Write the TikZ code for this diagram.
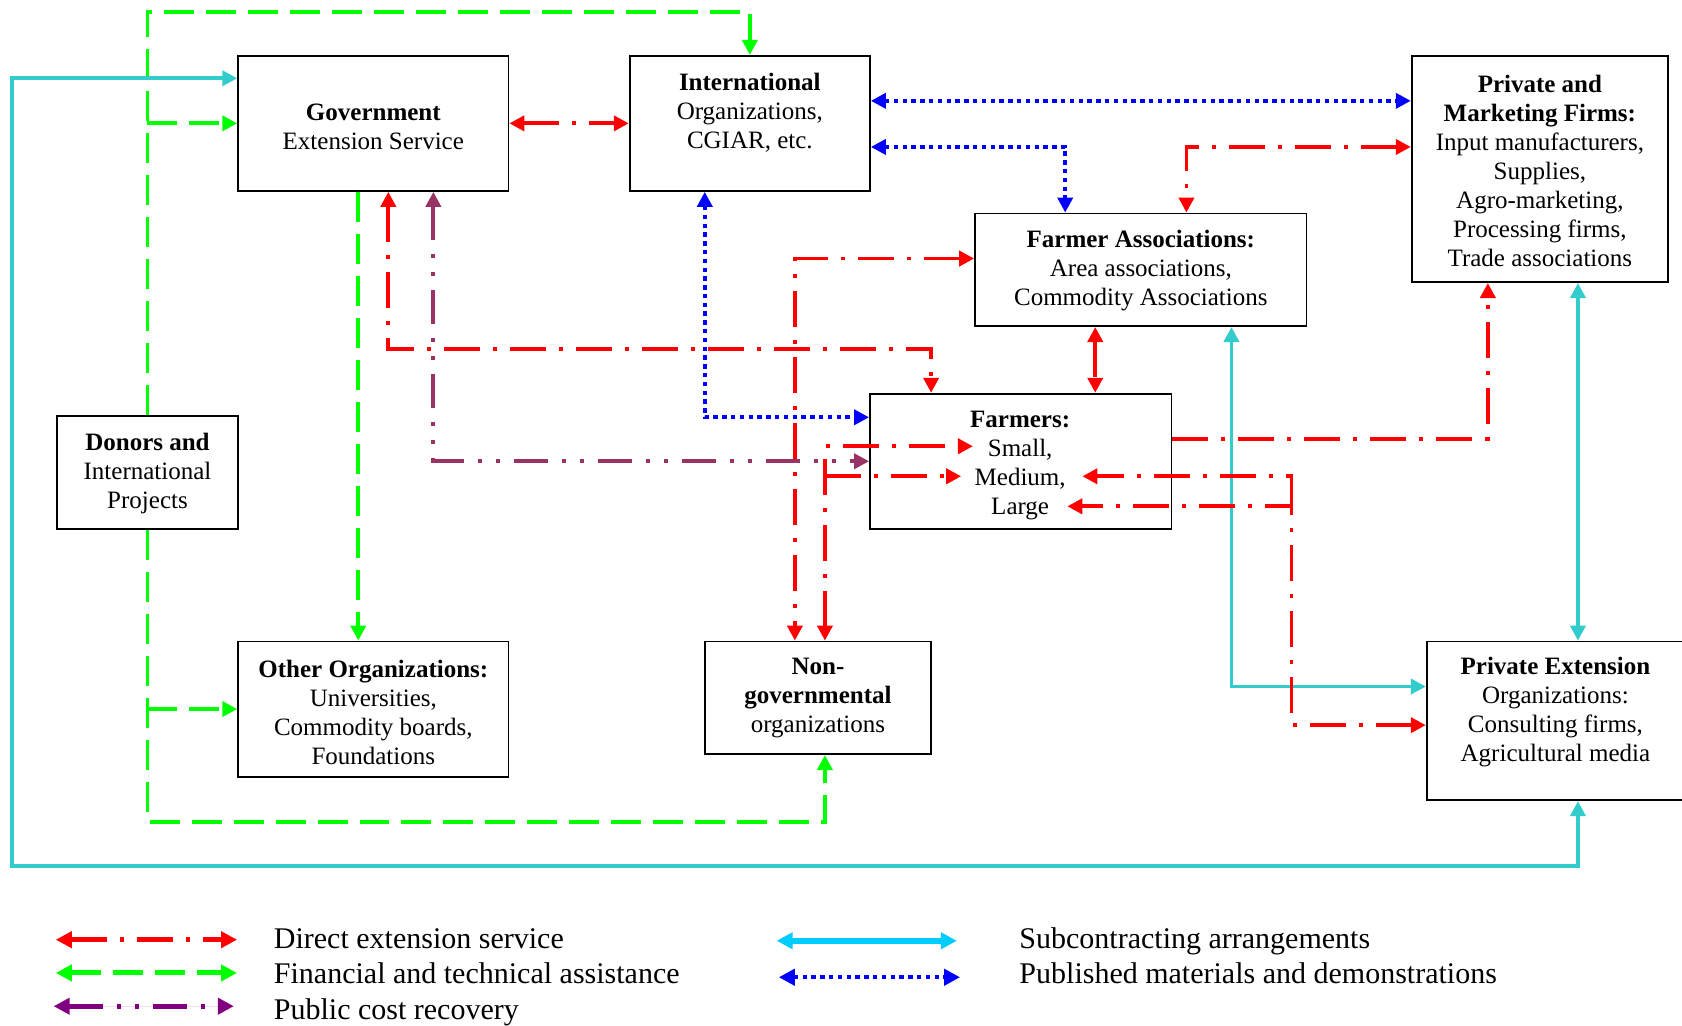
\documentclass[tikz,border=0pt]{standalone}
\usepackage{fontspec}
\setmainfont{Liberation Serif}
\usetikzlibrary{arrows.meta}

\definecolor{dxred}{RGB}{255,0,0}
\definecolor{fagreen}{RGB}{0,255,0}
\definecolor{pcrpurple}{RGB}{153,51,102}
\definecolor{subteal}{RGB}{51,204,204}
\definecolor{pubblue}{RGB}{0,0,255}
\definecolor{legpurple}{RGB}{128,0,128}
\definecolor{legcyan}{RGB}{0,204,255}

\begin{document}
\begin{tikzpicture}[
  x=0.5364pt, y=-0.5364pt,
  box/.style={draw=black, line width=0.9pt, inner sep=0pt},
  txt/.style={align=center, font=\fontsize{12.5}{14.5}\selectfont, inner sep=0pt},
  legtxt/.style={anchor=base west, font=\fontsize{15}{17.7}\selectfont, inner sep=0pt},
  >={Triangle[length=7.5pt,width=7.5pt]},
  direct/.style={draw=dxred, line width=1.9pt, dash pattern=on 18pt off 6.5pt on 2pt off 6.5pt},
  finance/.style={draw=fagreen, line width=1.9pt, dash pattern=on 15pt off 6pt},
  recovery/.style={draw=pcrpurple, line width=1.9pt, dash pattern=on 17pt off 7pt on 2pt off 7pt on 2pt off 7pt},
  subcon/.style={draw=subteal, line width=1.9pt},
  publish/.style={draw=pubblue, line width=2.1pt, dash pattern=on 2.2pt off 2.2pt},
  legend/.style={line width=2.5pt, >={Triangle[length=8pt,width=8pt]}},
]
\useasboundingbox (0,0) rectangle (1568,956);
\clip (0,0) rectangle (1568,956);

% ---------- boxes ----------
\node[box, minimum width=135.17pt, minimum height=67.59pt] (gov)     at (348,115)    {};
\node[box, minimum width=120.15pt, minimum height=67.59pt] (intl)    at (699,115)    {};
\node[box, minimum width=128.20pt, minimum height=113.18pt] (pmf)    at (1435.5,157.5) {};
\node[box, minimum width=165.75pt, minimum height=56.32pt] (fa)      at (1063.5,251.5) {};
\node[box, minimum width=150.73pt, minimum height=67.59pt] (farmers) at (951.5,430)  {};
\node[box, minimum width=90.65pt,  minimum height=56.32pt] (donors)  at (137.5,440.5) {};
\node[box, minimum width=135.17pt, minimum height=67.59pt] (other)   at (348,661)    {};
\node[box, minimum width=113.18pt, minimum height=56.32pt] (ngo)     at (762.5,650.5) {};
\node[box, minimum width=129.81pt, minimum height=79.39pt] (pe)      at (1451,672)   {};

% ---------- box texts ----------
\node[txt] (gov-t)     at (348,118.5)  {\textbf{Government}\\Extension Service};
\node[txt] (intl-t)    at (699,105.5)  {\textbf{International}\\Organizations,\\CGIAR, etc.};
\node[txt] (pmf-t)     at (1435.5,159) {\textbf{Private and}\\\textbf{Marketing Firms:}\\Input manufacturers,\\Supplies,\\Agro-marketing,\\Processing firms,\\Trade associations};
\node[txt] (fa-t)      at (1063.5,252.5) {\textbf{Farmer Associations:}\\Area associations,\\Commodity Associations};
\node[txt] (farmers-t) at (951,434)    {\textbf{Farmers:}\\Small,\\Medium,\\Large};
\node[txt] (donors-t)  at (137.5,441.5) {\textbf{Donors and}\\International\\Projects};
\node[txt] (other-t)   at (348,664)    {\textbf{Other Organizations:}\\Universities,\\Commodity boards,\\Foundations};
\node[txt] (ngo-t)     at (762.5,650.5) {\textbf{Non-}\\\textbf{governmental}\\organizations};
\node[txt] (pe-t)      at (1450,664)   {\textbf{Private Extension}\\Organizations:\\Consulting firms,\\Agricultural media};

% ---------- lanes and free ends ----------
\coordinate (toprail)  at (0,11);
\coordinate (botrail)  at (0,766);
\coordinate (leftrail) at (11,0);
\coordinate (cyanbot)  at (0,807);
\coordinate (ycyan)    at (0,73);
\coordinate (ycyan2)   at (0,640);
\coordinate (xgovG)    at (334,0);
\coordinate (xgovR)    at (362,0);
\coordinate (xgovP)    at (404,0);
\coordinate (xintB)    at (657,0);
\coordinate (xngoA)    at (741,0);
\coordinate (xngoB)    at (769,0);
\coordinate (xfarmR)   at (868,0);
\coordinate (xfaB)     at (993,0);
\coordinate (xfaF)     at (1021,0);
\coordinate (xfaR)     at (1106,0);
\coordinate (xfaC)     at (1148,0);
\coordinate (xrr)      at (1204,0);
\coordinate (xpmfR)    at (1387,0);
\coordinate (xpe)      at (1471,0);
\coordinate (yb94)     at (0,94);
\coordinate (yb137)    at (0,137);
\coordinate (yr241)    at (0,241);
\coordinate (yr325)    at (0,325);
\coordinate (yb389)    at (0,389);
\coordinate (yr409)    at (0,409);
\coordinate (ypcr)     at (0,430);
\coordinate (yr676)    at (0,676);
\coordinate (smallTip)   at (907,416);
\coordinate (mediumTipL) at (896,444);
\coordinate (mediumTipR) at (1009,444);
\coordinate (largeTip)   at (995,472);

% ---------- financial and technical assistance ----------
\draw[finance,->] (donors.north) -- (donors.north |- toprail) -| (intl.north);
\draw[finance,->] (donors.north |- gov.west) -- (gov.west);
\draw[finance,->] (donors.south) -- (donors.south |- botrail) -| (ngo.south -| xngoB);
\draw[finance,->] (donors.south |- other.west) -- (other.west);
\draw[finance,->] (gov.south -| xgovG) -- (other.north -| xgovG);

% ---------- subcontracting arrangements ----------
\draw[subcon,<->] (gov.west |- ycyan) -| (leftrail |- cyanbot) -| (pe.south -| xpe);
\draw[subcon,<->] (pmf.south -| xpe) -- (pe.north -| xpe);
\draw[subcon,<->] (fa.south -| xfaC) |- (pe.west |- ycyan2);

% ---------- published materials and demonstrations ----------
\draw[publish,<->] (intl.east |- yb94) -- (pmf.west |- yb94);
\draw[publish,<->] (intl.east |- yb137) -| (fa.north -| xfaB);
\draw[publish,<->] (intl.south -| xintB) |- (farmers.west |- yb389);

% ---------- public cost recovery ----------
\draw[recovery,<->] (gov.south -| xgovP) |- (farmers.west |- ypcr);

% ---------- direct extension service ----------
\draw[direct,<->] (gov.east) -- (intl.west);
\draw[direct,<->] (gov.south -| xgovR) -- (xgovR |- yr325) -| (farmers.north -| xfarmR);
\draw[direct,<->] (pmf.west |- yb137) -| (fa.north -| xfaR);
\draw[direct,<->] (fa.south -| xfaF) -- (farmers.north -| xfaF);
\draw[direct,<->] (fa.west |- yr241) -| (ngo.north -| xngoA);
\draw[direct,<->] (ngo.north -| xngoB) |- (smallTip);
\draw[direct,->] (xngoB |- mediumTipL) -- (mediumTipL);
\draw[direct,->] (farmers.east |- yr409) -| (pmf.south -| xpmfR);
\draw[direct,<->] (pe.west |- yr676) -| (xrr |- largeTip) -- (largeTip);
\draw[direct,->] (xrr |- largeTip) |- (mediumTipR);

% ---------- legend ----------
\coordinate (l1a) at (52,876);  \coordinate (l1b) at (221,876);
\coordinate (l2a) at (52,907);  \coordinate (l2b) at (221,907);
\coordinate (l3a) at (50,938);  \coordinate (l3b) at (218,938);
\coordinate (l4a) at (724,877); \coordinate (l4b) at (892,877);
\coordinate (l5a) at (726,911); \coordinate (l5b) at (895,911);
\draw[direct,legend,<->]   (l1a) -- (l1b);
\draw[finance,legend,<->]  (l2a) -- (l2b);
\draw[recovery,legend,draw=legpurple,fill=legpurple,<->] (l3a) -- (l3b);
\draw[legend,draw=legcyan,line width=2.8pt,<->] (l4a) -- (l4b);
\draw[publish,legend,line width=2pt,<->] (l5a) -- (l5b);
\node[legtxt] (lt1) at (255,884) {Direct extension service};
\node[legtxt] (lt2) at (255,917) {Financial and technical assistance};
\node[legtxt] (lt3) at (255,950) {Public cost recovery};
\node[legtxt] (lt4) at (950,884) {Subcontracting arrangements};
\node[legtxt] (lt5) at (950,917) {Published materials and demonstrations};
\end{tikzpicture}
\end{document}
